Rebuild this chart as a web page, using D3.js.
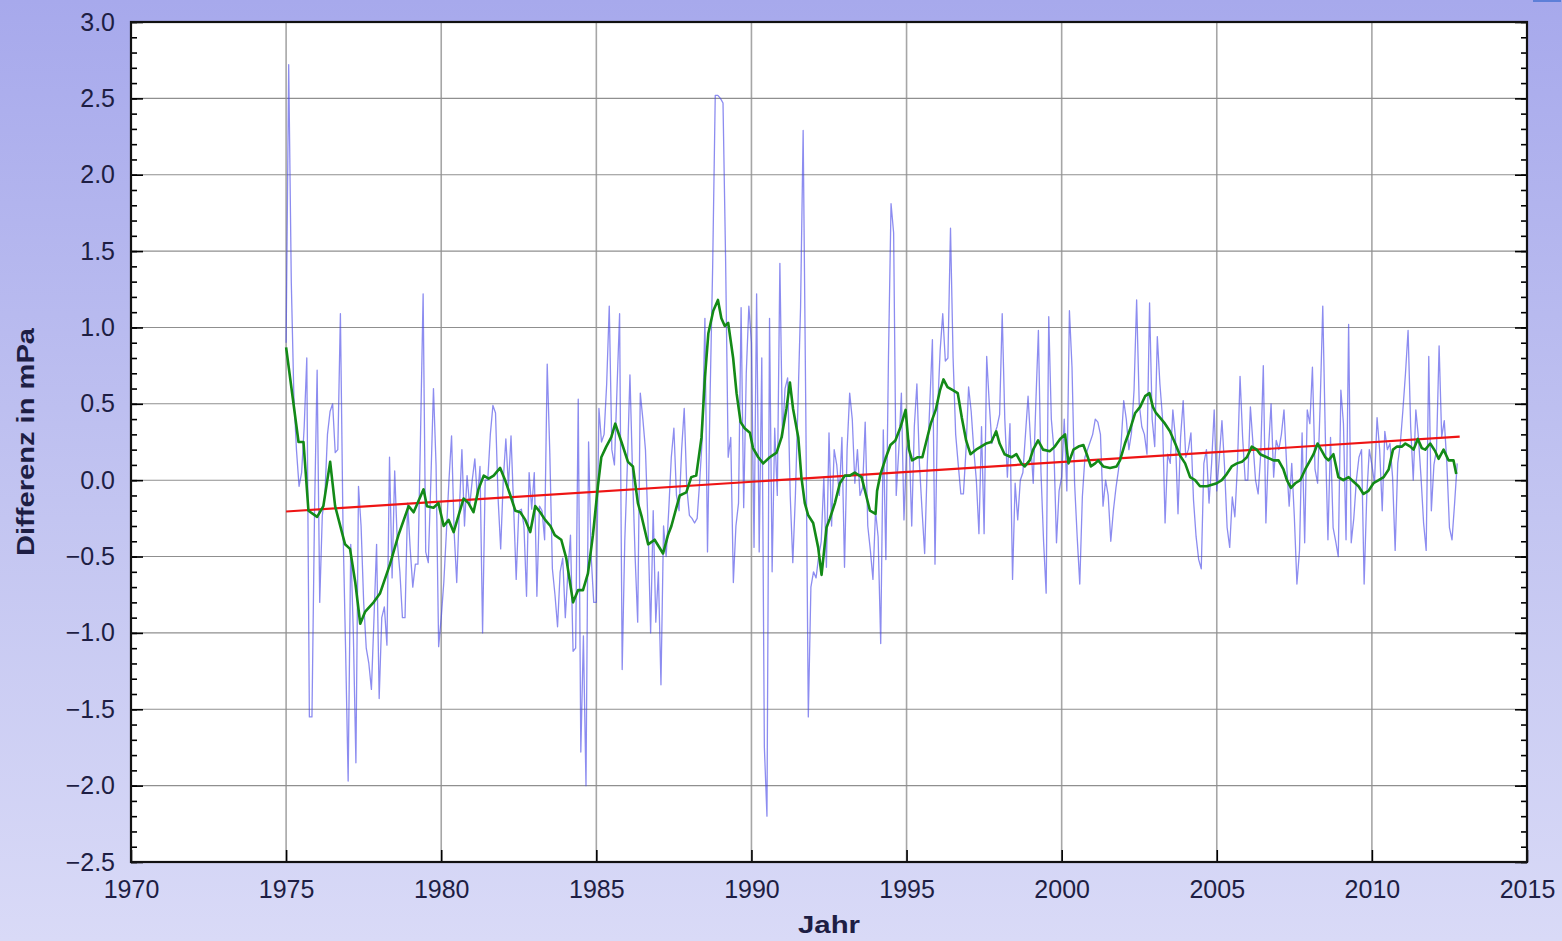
<!DOCTYPE html>
<html>
<head>
<meta charset="utf-8">
<script src="https://cdn.jsdelivr.net/npm/d3@7"></script>
<style>
  html, body { margin: 0; padding: 0; overflow: hidden; background: #c4c6f0; }
  svg { display: block; }
</style>
</head>
<body>
<svg id="chart" width="1562" height="941"></svg>
<script>
// Monthly ozone partial-pressure difference (mPa), January 1975 onwards
const startYear = 1975;
const monthlyDiff = [
  // 1975
  0.9, 2.72, 1.3, 0.55, 0.2, -0.04, 0.05, 0.35, 0.8, -1.55, -1.55, -0.2,
  // 1976
  0.72, -0.8, -0.23, -0.1, 0.3, 0.45, 0.5, 0.18, 0.2, 1.09, -0.3, -1.1,
  // 1977
  -1.97, -0.42, -1.0, -1.85, -0.04, -0.3, -0.8, -1.1, -1.2, -1.37, -0.9, -0.42,
  // 1978
  -1.43, -0.9, -0.83, -1.08, 0.15, -0.64, 0.06, -0.4, -0.6, -0.9, -0.9, -0.15,
  // 1979
  -0.45, -0.7, -0.55, -0.55, 0.3, 1.22, -0.47, -0.54, 0.0, 0.6, 0.1, -1.09,
  // 1980
  -0.9, -0.67, -0.34, 0.0, 0.29, -0.34, -0.67, -0.2, 0.2, -0.3, 0.03, -0.17,
  // 1981
  0.0, 0.14, -0.12, 0.09, -1.0, 0.0, 0.0, 0.3, 0.49, 0.44, -0.12, -0.45,
  // 1982
  0.0, 0.27, -0.04, 0.29, -0.17, -0.65, -0.2, -0.19, -0.3, -0.76, 0.05, -0.19,
  // 1983
  0.05, -0.76, -0.17, -0.2, -0.39, 0.76, 0.18, -0.58, -0.75, -0.96, -0.6, -0.51,
  // 1984
  -0.9, -0.6, -0.36, -1.12, -1.1, 0.53, -1.78, -1.02, -2.0, 0.25, -0.5, -0.8,
  // 1985
  -0.8, 0.47, 0.25, 0.3, 0.63, 1.14, 0.2, 0.1, 0.6, 1.09, -1.24, -0.4,
  // 1986
  0.1, 0.69, 0.05, -0.5, -0.93, 0.57, 0.4, 0.2, -0.3, -1.0, -0.2, -0.93,
  // 1987
  -0.6, -1.34, -0.3, -0.5, -0.2, 0.15, 0.34, -0.1, -0.2, 0.2, 0.47, -0.05,
  // 1988
  -0.23, -0.25, -0.28, -0.25, 0.0, 0.28, 1.06, -0.47, 0.55, 1.4, 2.52, 2.52,
  // 1989
  2.5, 2.47, 1.45, 0.15, 0.28, -0.67, -0.3, -0.15, 1.13, -0.18, 0.7, 1.14,
  // 1990
  0.9, -0.44, 1.22, -0.47, 0.8, -1.75, -2.2, 1.06, -0.6, 0.34, -0.1, 1.42,
  // 1991
  0.28, 0.6, 0.67, -0.1, -0.54, -0.1, 0.5, 1.13, 2.29, 0.5, -1.55, -0.7,
  // 1992
  -0.6, -0.64, -0.5, -0.4, 0.02, -0.57, 0.31, -0.3, 0.2, 0.1, -0.1, 0.28,
  // 1993
  -0.57, 0.2, 0.57, 0.4, -0.02, 0.2, -0.1, -0.05, 0.38, -0.3, -0.46, -0.65,
  // 1994
  -0.2, -0.37, -1.07, 0.33, -0.52, 0.8, 1.81, 1.62, -0.1, 0.2, 0.57, -0.26,
  // 1995
  0.2, 0.26, -0.3, 0.35, 0.63, 0.1, -0.2, -0.48, 0.1, 0.5, 0.92, -0.55,
  // 1996
  0.46, 0.85, 1.09, 0.78, 0.8, 1.65, 0.8, 0.3, 0.1, -0.09, -0.09, 0.2,
  // 1997
  0.61, 0.45, 0.2, 0.0, -0.35, 0.35, -0.35, 0.81, 0.5, 0.24, 0.3, 0.35,
  // 1998
  0.43, 1.09, 0.4, 0.02, 0.37, -0.65, -0.02, -0.26, 0.0, 0.05, 0.3, 0.55,
  // 1999
  0.25, -0.02, 0.5, 0.98, 0.05, -0.4, -0.74, 1.07, 0.4, 0.2, -0.41, -0.07,
  // 2000
  0.02, 0.4, -0.07, 1.11, 0.74, -0.02, -0.37, -0.68, -0.11, 0.15, 0.2, 0.25,
  // 2001
  0.3, 0.4, 0.38, 0.3, -0.17, 0.0, -0.1, -0.4, -0.2, -0.05, 0.07, 0.24,
  // 2002
  0.52, 0.4, 0.2, 0.31, 0.59, 1.18, 0.5, 0.35, 0.3, 0.17, 1.16, 0.4,
  // 2003
  0.22, 0.94, 0.63, 0.41, -0.28, 0.17, 0.11, 0.46, 0.28, -0.22, 0.28, 0.52,
  // 2004
  0.15, 0.2, 0.31, -0.13, -0.37, -0.52, -0.58, 0.11, 0.2, -0.15, 0.11, 0.46,
  // 2005
  -0.07, 0.15, 0.39, 0.09, -0.31, -0.44, -0.11, -0.24, 0.1, 0.68, 0.28, 0.0,
  // 2006
  0.0, 0.48, 0.24, 0.0, -0.09, 0.17, 0.75, -0.28, 0.2, 0.5, 0.02, 0.26,
  // 2007
  0.2, 0.3, 0.46, 0.11, -0.17, 0.11, -0.24, -0.68, -0.46, 0.31, -0.41, 0.46,
  // 2008
  0.37, 0.74, 0.07, -0.02, 0.5, 1.14, 0.28, -0.39, 0.28, -0.31, -0.4, -0.5,
  // 2009
  0.59, 0.37, -0.39, 1.02, -0.41, -0.25, 0.0, 0.15, 0.2, -0.68, -0.11, 0.2,
  // 2010
  0.1, -0.02, 0.41, 0.2, -0.2, 0.32, 0.2, 0.24, 0.02, -0.46, 0.11, 0.24,
  // 2011
  0.46, 0.7, 0.98, 0.35, 0.0, 0.46, 0.28, 0.02, -0.28, -0.46, 0.81, -0.2,
  // 2012
  0.1, 0.2, 0.88, 0.28, 0.39, 0.11, -0.31, -0.39, -0.15, 0.11
];

// Running mean (green curve): decimal year and value
const smoothYears = [
  1975.0, 1975.4, 1975.56, 1975.72, 1976.0, 1976.2, 1976.42, 1976.58, 1976.9, 1977.06,
  1977.23, 1977.39, 1977.55, 1977.82, 1978.03, 1978.35, 1978.62, 1978.95, 1979.11, 1979.43,
  1979.54, 1979.75, 1979.91, 1980.08, 1980.24, 1980.4, 1980.56, 1980.72, 1980.88, 1981.04,
  1981.2, 1981.37, 1981.53, 1981.69, 1981.9, 1982.06, 1982.23, 1982.39, 1982.55, 1982.71,
  1982.87, 1983.03, 1983.19, 1983.35, 1983.52, 1983.66, 1983.87, 1984.03, 1984.25, 1984.41,
  1984.57, 1984.73, 1984.89, 1985.05, 1985.16, 1985.32, 1985.48, 1985.61, 1985.81, 1986.02,
  1986.18, 1986.34, 1986.45, 1986.67, 1986.88, 1987.15, 1987.31, 1987.42, 1987.58, 1987.69,
  1987.9, 1988.06, 1988.22, 1988.39, 1988.5, 1988.61, 1988.77, 1988.92, 1989.03, 1989.14,
  1989.25, 1989.41, 1989.52, 1989.65, 1989.78, 1989.95, 1990.05, 1990.22, 1990.38, 1990.59,
  1990.81, 1990.97, 1991.13, 1991.24, 1991.34, 1991.51, 1991.61, 1991.72, 1991.83, 1991.99,
  1992.15, 1992.26, 1992.42, 1992.53, 1992.69, 1992.85, 1993.01, 1993.17, 1993.33, 1993.55,
  1993.71, 1993.82, 1994.0, 1994.05, 1994.16, 1994.32, 1994.48, 1994.64, 1994.81, 1994.97,
  1995.08, 1995.18, 1995.35, 1995.51, 1995.62, 1995.78, 1995.94, 1996.08, 1996.19, 1996.32,
  1996.49, 1996.65, 1996.78, 1996.92, 1997.06, 1997.24, 1997.4, 1997.56, 1997.73, 1997.89,
  1998.0, 1998.16, 1998.38, 1998.54, 1998.7, 1998.81, 1998.97, 1999.08, 1999.24, 1999.4,
  1999.62, 1999.78, 1999.95, 2000.11, 2000.22, 2000.38, 2000.54, 2000.7, 2000.81, 2000.94,
  2001.08, 2001.18, 2001.34, 2001.56, 2001.77, 2001.88, 2002.04, 2002.2, 2002.37, 2002.53,
  2002.69, 2002.83, 2002.94, 2003.04, 2003.17, 2003.33, 2003.49, 2003.66, 2003.82, 2003.98,
  2004.14, 2004.3, 2004.46, 2004.68, 2004.84, 2005.0, 2005.16, 2005.32, 2005.48, 2005.65,
  2005.81, 2005.97, 2006.13, 2006.29, 2006.4, 2006.61, 2006.83, 2006.99, 2007.15, 2007.26,
  2007.39, 2007.53, 2007.69, 2007.85, 2008.01, 2008.12, 2008.25, 2008.39, 2008.5, 2008.6,
  2008.76, 2008.92, 2009.08, 2009.25, 2009.41, 2009.57, 2009.73, 2009.89, 2010.05, 2010.22,
  2010.38, 2010.54, 2010.68, 2010.81, 2010.97, 2011.08, 2011.24, 2011.34, 2011.48, 2011.61,
  2011.72, 2011.88, 2012.04, 2012.15, 2012.31, 2012.47, 2012.63, 2012.72
];
const smoothValues = [
  0.87, 0.25, 0.25, -0.2, -0.24, -0.17, 0.12, -0.17, -0.42, -0.45,
  -0.67, -0.94, -0.86, -0.8, -0.74, -0.55, -0.36, -0.17, -0.21, -0.06,
  -0.17, -0.18, -0.15, -0.3, -0.26, -0.34, -0.23, -0.12, -0.15, -0.21,
  -0.06, 0.03, 0.01, 0.03, 0.08, 0.0, -0.1, -0.2, -0.21, -0.26,
  -0.34, -0.17, -0.21, -0.26, -0.3, -0.36, -0.39, -0.51, -0.8, -0.72,
  -0.72, -0.61, -0.36, -0.04, 0.15, 0.22, 0.28, 0.37, 0.25, 0.12,
  0.09, -0.15, -0.23, -0.42, -0.39, -0.48, -0.36, -0.3, -0.18, -0.1,
  -0.08, 0.02, 0.03, 0.28, 0.67, 0.96, 1.11, 1.18, 1.06, 1.01,
  1.03, 0.8, 0.57, 0.38, 0.34, 0.31, 0.21, 0.15, 0.11, 0.15,
  0.18, 0.28, 0.47, 0.64, 0.47, 0.28, 0.02, -0.15, -0.23, -0.28,
  -0.44, -0.62, -0.31, -0.25, -0.15, -0.02, 0.03, 0.03, 0.05, 0.02,
  -0.11, -0.2, -0.22, -0.07, 0.04, 0.14, 0.23, 0.26, 0.35, 0.46,
  0.2, 0.13, 0.15, 0.15, 0.24, 0.37, 0.46, 0.59, 0.66, 0.61,
  0.59, 0.57, 0.41, 0.26, 0.17, 0.2, 0.22, 0.24, 0.25, 0.32,
  0.24, 0.17, 0.15, 0.17, 0.11, 0.09, 0.13, 0.2, 0.26, 0.2,
  0.19, 0.22, 0.27, 0.3, 0.11, 0.2, 0.22, 0.23, 0.17, 0.09,
  0.11, 0.13, 0.09, 0.08, 0.09, 0.13, 0.24, 0.33, 0.44, 0.48,
  0.55, 0.57, 0.48, 0.44, 0.41, 0.37, 0.32, 0.24, 0.16, 0.11,
  0.02, 0.0, -0.04, -0.04, -0.03, -0.02, 0.0, 0.04, 0.09, 0.11,
  0.12, 0.15, 0.22, 0.2, 0.17, 0.15, 0.13, 0.13, 0.07, 0.0,
  -0.05, -0.02, 0.0, 0.07, 0.13, 0.17, 0.24, 0.19, 0.15, 0.13,
  0.17, 0.02, 0.0, 0.02, -0.01, -0.04, -0.09, -0.07, -0.02, 0.0,
  0.02, 0.07, 0.2, 0.22, 0.22, 0.24, 0.22, 0.2, 0.27, 0.21,
  0.2, 0.24, 0.19, 0.14, 0.2, 0.13, 0.13, 0.04
];

// Linear trend (red line)
const trendYears = [1975.0, 2012.83];
const trendValues = [-0.205, 0.285];

// Axis ticks
const xTicks = [1970, 1975, 1980, 1985, 1990, 1995, 2000, 2005, 2010, 2015];
const yTicks = [-2.5, -2.0, -1.5, -1.0, -0.5, 0.0, 0.5, 1.0, 1.5, 2.0, 2.5, 3.0];
const yMinorTicks = d3.range(-25, 31).map(k => k / 10);

const W = 1562, H = 941;
const plot = { left: 131, top: 22, right: 1527, bottom: 862 };

const svg = d3.select("#chart");
const defs = svg.append("defs");

const bg = defs.append("linearGradient")
  .attr("id", "bgGrad").attr("x1", 0).attr("y1", 0).attr("x2", 0).attr("y2", 1);
bg.append("stop").attr("offset", "0%").attr("stop-color", "#a7a9ec");
bg.append("stop").attr("offset", "55%").attr("stop-color", "#c3c5f1");
bg.append("stop").attr("offset", "100%").attr("stop-color", "#d9daf7");

defs.append("clipPath").attr("id", "plotClip")
  .append("rect")
  .attr("x", plot.left).attr("y", plot.top)
  .attr("width", plot.right - plot.left).attr("height", plot.bottom - plot.top);

svg.append("rect").attr("width", W).attr("height", H).attr("fill", "url(#bgGrad)");
svg.append("rect").attr("x", 1533).attr("y", 0).attr("width", 28).attr("height", 2)
  .attr("fill", "#5d7fd8");

const x = d3.scaleLinear().domain([1970, 2015]).range([plot.left, plot.right]);
const y = d3.scaleLinear().domain([-2.5, 3.0]).range([plot.bottom, plot.top]);

// Plot area
svg.append("rect")
  .attr("x", plot.left).attr("y", plot.top)
  .attr("width", plot.right - plot.left).attr("height", plot.bottom - plot.top)
  .attr("fill", "#ffffff");

// Grid
const grid = svg.append("g").attr("stroke", "#8f8f8f").attr("stroke-width", 1.1);
grid.selectAll("line.v").data(xTicks.slice(1, -1)).join("line")
  .attr("x1", d => x(d)).attr("x2", d => x(d))
  .attr("y1", plot.top).attr("y2", plot.bottom)
  .attr("stroke", "#a6a6a6").attr("stroke-width", 1.6);
grid.selectAll("line.h").data(yTicks.slice(1, -1)).join("line")
  .attr("x1", plot.left).attr("x2", plot.right)
  .attr("y1", d => y(d)).attr("y2", d => y(d));

const fmt = v => (v < 0 ? "\u2212" : "") + Math.abs(v).toFixed(1);
const fontFamily = "'Liberation Sans', Arial, Helvetica, sans-serif";
const textColor = "#1e1e44";

// Data lines
const lines = svg.append("g").attr("clip-path", "url(#plotClip)");

const monthly = monthlyDiff.map((v, i) => ({ t: startYear + i / 12, v }));
lines.append("path")
  .datum(monthly)
  .attr("fill", "none")
  .attr("stroke", "#4646e6")
  .attr("stroke-opacity", 0.62)
  .attr("stroke-width", 1.3)
  .attr("stroke-linejoin", "round")
  .attr("d", d3.line().x(d => x(d.t)).y(d => y(d.v)));

const trend = trendYears.map((t, i) => ({ t, v: trendValues[i] }));
lines.append("path")
  .datum(trend)
  .attr("fill", "none")
  .attr("stroke", "#ee1414")
  .attr("stroke-width", 2.2)
  .attr("d", d3.line().x(d => x(d.t)).y(d => y(d.v)));

const smooth = smoothYears.map((t, i) => ({ t, v: smoothValues[i] }));
lines.append("path")
  .datum(smooth)
  .attr("fill", "none")
  .attr("stroke", "#138a17")
  .attr("stroke-width", 2.6)
  .attr("stroke-linejoin", "round")
  .attr("d", d3.line().x(d => x(d.t)).y(d => y(d.v)));

// Axes (ticks pointing inward)
const styleAxis = g => {
  g.select(".domain").remove();
  g.selectAll(".tick line").attr("stroke", "#000").attr("stroke-width", 1.6);
  g.selectAll(".tick text")
    .attr("fill", textColor)
    .style("font-family", fontFamily)
    .style("font-size", "25px");
};

svg.append("g")
  .attr("transform", `translate(${plot.left},0)`)
  .call(d3.axisLeft(y).tickValues(yTicks).tickFormat(fmt).tickSizeInner(-12).tickSizeOuter(0).tickPadding(16))
  .call(styleAxis);
svg.append("g")
  .attr("transform", `translate(${plot.left},0)`)
  .call(d3.axisLeft(y).tickValues(yMinorTicks).tickFormat("").tickSizeInner(-6).tickSizeOuter(0))
  .call(styleAxis);
svg.append("g")
  .attr("transform", `translate(${plot.right},0)`)
  .call(d3.axisRight(y).tickValues(yTicks).tickFormat("").tickSizeInner(-12).tickSizeOuter(0))
  .call(styleAxis);
svg.append("g")
  .attr("transform", `translate(${plot.right},0)`)
  .call(d3.axisRight(y).tickValues(yMinorTicks).tickFormat("").tickSizeInner(-6).tickSizeOuter(0))
  .call(styleAxis);
svg.append("g")
  .attr("transform", `translate(0,${plot.bottom})`)
  .call(d3.axisBottom(x).tickValues(xTicks).tickFormat(d3.format("d")).tickSizeInner(-12).tickSizeOuter(0).tickPadding(18))
  .call(styleAxis);

// Frame
svg.append("rect")
  .attr("x", plot.left).attr("y", plot.top)
  .attr("width", plot.right - plot.left).attr("height", plot.bottom - plot.top)
  .attr("fill", "none").attr("stroke", "#111").attr("stroke-width", 2.2);

// Axis titles
svg.append("text")
  .attr("x", (plot.left + plot.right) / 2).attr("y", 933)
  .attr("text-anchor", "middle")
  .attr("textLength", 62).attr("lengthAdjust", "spacingAndGlyphs")
  .attr("fill", textColor)
  .style("font-family", fontFamily).style("font-size", "23px").style("font-weight", "bold")
  .text("Jahr");

svg.append("text")
  .attr("transform", `translate(34,${(plot.top + plot.bottom) / 2}) rotate(-90)`)
  .attr("text-anchor", "middle")
  .attr("textLength", 228).attr("lengthAdjust", "spacingAndGlyphs")
  .attr("fill", textColor)
  .style("font-family", fontFamily).style("font-size", "24px").style("font-weight", "bold")
  .text("Differenz in mPa");
</script>
</body>
</html>
